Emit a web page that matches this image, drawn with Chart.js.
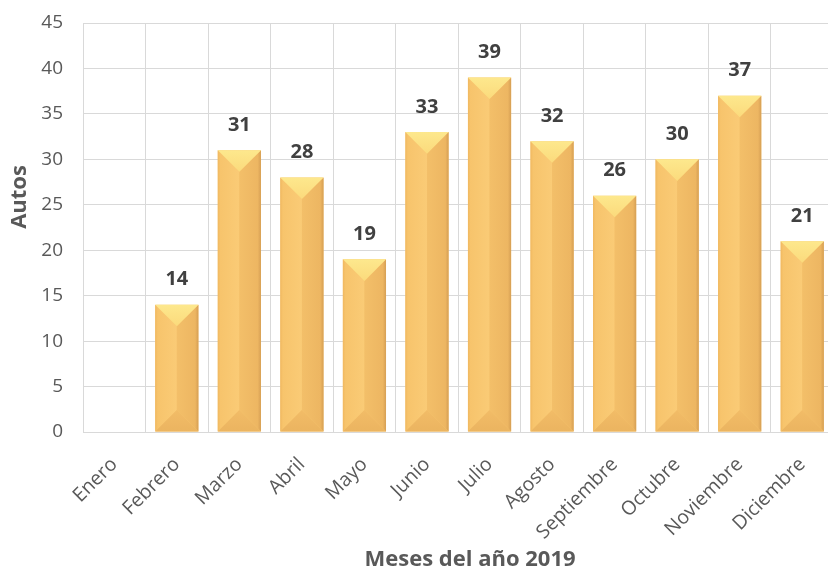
<!DOCTYPE html>
<html>
<head>
<meta charset="utf-8">
<script src="https://cdn.jsdelivr.net/npm/chart.js@4.4.1/dist/chart.umd.min.js"></script>
<style>
html,body{margin:0;padding:0;background:#fff;overflow:hidden;}
#wrap{width:828px;height:579px;overflow:hidden;position:relative;}
#wrap canvas{position:absolute;left:0;top:0;}
</style>
</head>
<body>
<div id="wrap"><canvas id="c" width="840" height="579" style="width:840px;height:579px"></canvas></div>
<script>
const categories = ["Enero","Febrero","Marzo","Abril","Mayo","Junio","Julio","Agosto","Septiembre","Octubre","Noviembre","Diciembre"];
const autos = [null,14,31,28,19,33,39,32,26,30,37,21];
const yTicks = [0,5,10,15,20,25,30,35,40,45];
const yTitle = "Autos";
const xTitle = "Meses del año 2019";

const FONT = "'Open Sans', sans-serif";

const bevelPlugin = {
  id: 'bevel',
  afterDatasetsDraw(chart) {
    const ctx = chart.ctx;
    const meta = chart.getDatasetMeta(0);
    ctx.save();
    meta.data.forEach((bar, i) => {
      if (autos[i] === null || autos[i] === undefined) return;
      const p = bar.getProps(['x','y','base','width'], true);
      const l = p.x - p.width/2, r = p.x + p.width/2, t = p.y, b = p.base, cx = p.x;
      const d = Math.min(p.width/2, (b - t)/2);
      let g = ctx.createLinearGradient(l,0,cx,0);
      g.addColorStop(0,'#F0B860'); g.addColorStop(0.12,'#F7C46C'); g.addColorStop(1,'#FACB76');
      ctx.fillStyle = g;
      ctx.beginPath(); ctx.moveTo(l,t); ctx.lineTo(cx,t+d); ctx.lineTo(cx,b-d); ctx.lineTo(l,b); ctx.closePath(); ctx.fill();
      g = ctx.createLinearGradient(cx,0,r,0);
      g.addColorStop(0,'#F3BF69'); g.addColorStop(0.85,'#EDB662'); g.addColorStop(1,'#D69F54');
      ctx.fillStyle = g;
      ctx.beginPath(); ctx.moveTo(r,t); ctx.lineTo(cx,t+d); ctx.lineTo(cx,b-d); ctx.lineTo(r,b); ctx.closePath(); ctx.fill();
      g = ctx.createLinearGradient(0,t,0,t+d);
      g.addColorStop(0,'#FDE88D'); g.addColorStop(1,'#FBDA7C');
      ctx.fillStyle = g;
      ctx.beginPath(); ctx.moveTo(l,t); ctx.lineTo(r,t); ctx.lineTo(cx,t+d); ctx.closePath(); ctx.fill();
      g = ctx.createLinearGradient(0,b-d,0,b);
      g.addColorStop(0,'#F2BC67'); g.addColorStop(1,'#EBB460');
      ctx.fillStyle = g;
      ctx.beginPath(); ctx.moveTo(l,b); ctx.lineTo(r,b); ctx.lineTo(cx,b-d); ctx.closePath(); ctx.fill();
      ctx.fillStyle = '#404040';
      ctx.font = "bold 20px " + FONT;
      ctx.textAlign = 'center';
      ctx.textBaseline = 'middle';
      ctx.fillText(String(autos[i]), cx, t - 25);
    });
    ctx.restore();
  },
  afterDraw(chart) {
    const ctx = chart.ctx;
    ctx.save();
    ctx.fillStyle = '#595959';
    ctx.font = "bold 22px " + FONT;
    ctx.textAlign = 'center';
    ctx.textBaseline = 'middle';
    ctx.fillText(xTitle, 470, 560);
    ctx.translate(20, 197);
    ctx.rotate(-Math.PI/2);
    ctx.fillText(yTitle, 0, 0);
    ctx.restore();
  }
};

new Chart(document.getElementById('c'), {
  type: 'bar',
  data: {
    labels: categories,
    datasets: [{
      data: autos,
      backgroundColor: '#F7C56D',
      borderWidth: 0,
      barPercentage: 0.69,
      categoryPercentage: 1.0
    }]
  },
  options: {
    responsive: false,
    animation: false,
    devicePixelRatio: 1,
    layout: { padding: { top: 23, right: 5, left: 0, bottom: 0 } },
    plugins: { legend: { display: false }, tooltip: { enabled: false } },
    scales: {
      x: {
        grid: { color: '#D9D9D9', lineWidth: 1, drawTicks: false, offset: true },
        border: { color: '#D9D9D9' },
        ticks: {
          color: '#595959',
          font: { family: FONT, size: 19.5 },
          minRotation: 45, maxRotation: 45,
          padding: 21
        },
        afterFit(s) { s.height = 147; s.paddingTop = 0; s.paddingBottom = 0; }
      },
      y: {
        min: 0, max: 45,
        afterBuildTicks(s) { s.ticks = yTicks.map(v => ({ value: v })); },
        grid: { color: '#D9D9D9', lineWidth: 1, drawTicks: false },
        border: { color: '#D9D9D9' },
        ticks: {
          color: '#595959',
          font: { family: FONT, size: 19 },
          padding: 20
        },
        afterFit(s) { s.width = 83; s.paddingTop = 0; s.paddingBottom = 0; }
      }
    }
  },
  plugins: [bevelPlugin]
});
</script>
</body>
</html>
